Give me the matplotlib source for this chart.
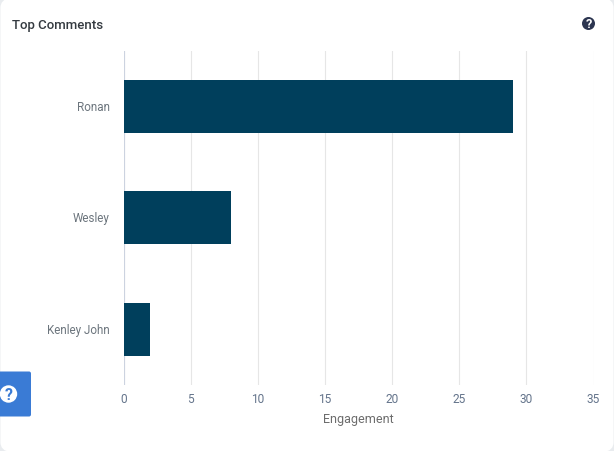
#!/usr/bin/env python3
import matplotlib
matplotlib.use("Agg")
import matplotlib.pyplot as plt
from matplotlib.patches import Circle, FancyBboxPatch
from matplotlib.transforms import ScaledTranslation

names = ["Ronan", "Wesley", "Kenley John"]
engagement = [29, 8, 2]
xticks = [0, 5, 10, 15, 20, 25, 30, 35]

W, H = 614, 452
plt.rcParams["font.family"] = ["Roboto", "DejaVu Sans"]

fig = plt.figure(figsize=(W / 100, H / 100), dpi=100, facecolor="#e9ecef")

# overlay in pixel coordinates, y pointing down, for card and icons
bg = fig.add_axes([0, 0, 1, 1], zorder=0)
bg.set_xlim(0, W)
bg.set_ylim(H, 0)
bg.axis("off")
bg.add_patch(FancyBboxPatch((6, 5), 602, 442, boxstyle="round,pad=0,rounding_size=4",
                            mutation_aspect=1, facecolor="white", edgecolor="white", linewidth=8))
bg.text(12, 25, "Top Comments", fontsize=9.5, fontweight="medium", color="#343a40",
        ha="left", va="center")

# main chart
ax = fig.add_axes([123.5 / W, (H - 386) / H, 470 / W, 334.5 / H], zorder=1)
ax.patch.set_alpha(0)
ax.barh(names, engagement, height=0.475, color="#003f5c", zorder=3)
ax.set_xlim(0, 35)
ax.set_ylim(2.5, -0.5)
ax.set_xticks(xticks)
ax.grid(axis="x", color="#e6e6e6", linewidth=0.8, zorder=0)
for s in ax.spines.values():
    s.set_visible(False)
ax.axvline(0, color="#ccd3e0", linewidth=0.8, zorder=2)
ax.tick_params(axis="x", length=0, pad=5, labelsize=8.6, labelcolor="#64748b")
ax.tick_params(axis="y", length=0, pad=10, labelsize=8.4, labelcolor="#6c757d")
ax.set_xlabel("Engagement", fontsize=9, color="#6c6c6c", labelpad=5)

# y labels sit a little high in the original
nudge = ScaledTranslation(0, 1.5 / 100, fig.dpi_scale_trans)
for lab in ax.get_yticklabels():
    lab.set_transform(lab.get_transform() + nudge)

# help icons and floating button
fg = fig.add_axes([0, 0, 1, 1], zorder=2)
fg.set_xlim(0, W)
fg.set_ylim(H, 0)
fg.axis("off")
fg.patch.set_alpha(0)
fg.add_patch(Circle((588.5, 24.5), 6.5, facecolor="#2c3550", edgecolor="none"))
fg.text(588.5, 24.8, "?", fontsize=9, fontweight="bold", color="white", ha="center", va="center")
fg.add_patch(FancyBboxPatch((-6, 372.5), 37, 45, boxstyle="round,pad=0,rounding_size=2",
                            facecolor="#3a7bd5", edgecolor="none"))
fg.add_patch(Circle((8.5, 395), 8.7, facecolor="white", edgecolor="none"))
fg.text(8.5, 395.5, "?", fontsize=11.5, fontweight="bold", color="#3a7bd5", ha="center", va="center")

fig.savefig("out.png", dpi=100, facecolor=fig.get_facecolor())
